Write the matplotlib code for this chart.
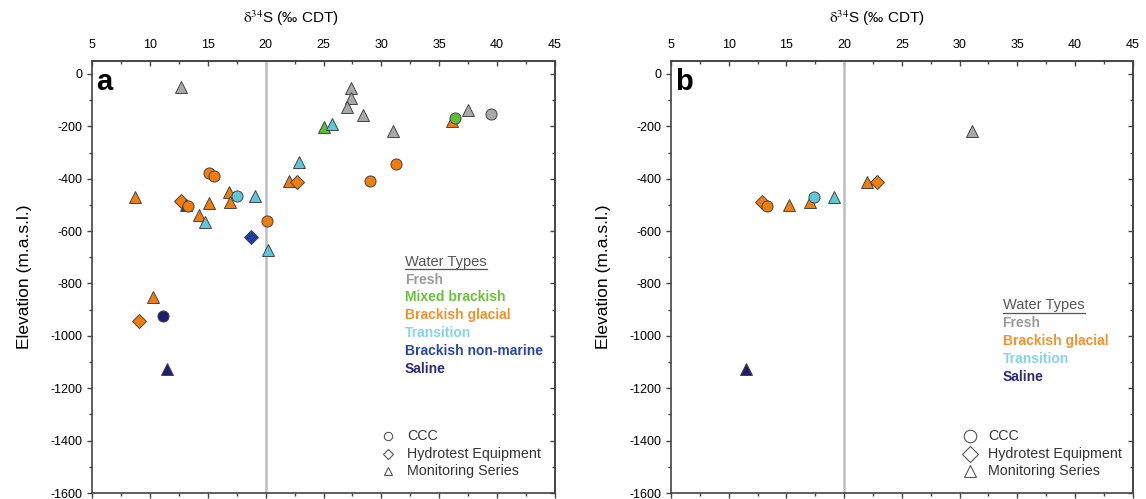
import matplotlib.pyplot as plt

plt.rcParams['font.family'] = ['Liberation Sans', 'DejaVu Sans']
plt.rcParams['mathtext.fontset'] = 'stix'
plt.rcParams['axes.unicode_minus'] = False

# water type colours (fill, legend text)
type_names = ['Fresh', 'Mixed brackish', 'Brackish glacial', 'Transition',
              'Brackish non-marine', 'Saline']
type_fill = ['#a9a9a9', '#5cbf34', '#f07d0c', '#5ec8da', '#1f3d9e', '#221c6e']
type_text = ['#9a9a9a', '#6cc23c', '#f2922e', '#86d4e6', '#2a44a8', '#2b2a78']

source_names = ['CCC', 'Hydrotest Equipment', 'Monitoring Series']
source_marker = {'CCC': 'o', 'Hydrotest Equipment': 'D', 'Monitoring Series': '^'}

# panel a data
a_type = ['Fresh', 'Fresh', 'Fresh', 'Fresh', 'Fresh', 'Fresh', 'Fresh', 'Fresh',
          'Mixed brackish', 'Transition', 'Brackish glacial', 'Mixed brackish',
          'Transition', 'Brackish glacial', 'Brackish glacial', 'Brackish glacial',
          'Brackish glacial', 'Brackish glacial', 'Brackish glacial', 'Brackish glacial',
          'Brackish glacial', 'Brackish non-marine', 'Brackish glacial', 'Brackish glacial',
          'Brackish glacial', 'Brackish glacial', 'Brackish glacial', 'Transition',
          'Transition', 'Transition', 'Brackish glacial', 'Brackish non-marine',
          'Transition', 'Brackish glacial', 'Brackish glacial', 'Saline', 'Saline']
a_source = ['Monitoring Series', 'Monitoring Series', 'Monitoring Series', 'Monitoring Series',
            'Monitoring Series', 'Monitoring Series', 'Monitoring Series', 'CCC',
            'Monitoring Series', 'Monitoring Series', 'Monitoring Series', 'CCC',
            'Monitoring Series', 'CCC', 'CCC', 'CCC',
            'CCC', 'Monitoring Series', 'Hydrotest Equipment', 'Monitoring Series',
            'Hydrotest Equipment', 'Monitoring Series', 'CCC', 'Monitoring Series',
            'Monitoring Series', 'Monitoring Series', 'Monitoring Series', 'CCC',
            'Monitoring Series', 'Monitoring Series', 'CCC', 'Hydrotest Equipment',
            'Monitoring Series', 'Monitoring Series', 'Hydrotest Equipment', 'CCC',
            'Monitoring Series']
a_d34s = [12.7, 27.4, 27.4, 27.0, 28.4, 31.0, 37.5, 39.5,
          25.0, 25.7, 36.1, 36.4,
          22.9, 31.3, 15.1, 15.5,
          29.0, 22.0, 22.7, 8.7,
          12.7, 13.1, 13.3, 14.2,
          15.1, 16.8, 16.9, 17.5,
          19.1, 14.8, 20.1, 18.7,
          20.2, 10.3, 9.1, 11.1, 11.5]
a_elev = [-50, -55, -90, -127, -158, -218, -137, -152,
          -202, -192, -180, -168,
          -335, -342, -378, -390,
          -408, -409, -411, -471,
          -485, -500, -506, -538,
          -494, -449, -487, -466,
          -466, -567, -563, -624,
          -673, -853, -945, -924, -1127]

# panel b data
b_type = ['Fresh', 'Brackish glacial', 'Brackish glacial', 'Brackish glacial',
          'Brackish glacial', 'Brackish glacial', 'Brackish glacial', 'Transition',
          'Transition', 'Saline']
b_source = ['Monitoring Series', 'Monitoring Series', 'Hydrotest Equipment',
            'Hydrotest Equipment', 'CCC', 'Monitoring Series', 'Monitoring Series',
            'CCC', 'Monitoring Series', 'Monitoring Series']
b_d34s = [31.1, 22.0, 22.8, 12.9, 13.3, 15.2, 17.0, 17.4, 19.1, 11.5]
b_elev = [-218, -411, -411, -487, -506, -500, -487, -468, -468, -1126]

a_legend_types = type_names
b_legend_types = ['Fresh', 'Brackish glacial', 'Transition', 'Saline']

fig = plt.figure(figsize=(11.46, 4.99), dpi=100)
ax_a = fig.add_axes([0.0803, 0.012, 0.404, 0.866])
ax_b = fig.add_axes([0.5855, 0.012, 0.403, 0.866])


def draw_panel(ax, types, sources, xs, ys, letter, legend_types, leg_x, leg_y,
               src_x, src_ms, xlab_x):
    ax.axvline(20, color='#bdbdbd', lw=1.8, zorder=1)
    for t, s, x, y in zip(types, sources, xs, ys):
        i = type_names.index(t)
        m = source_marker[s]
        ms = 8 if m == 'o' else (7 if m == 'D' else 9)
        ax.plot(x, y, marker=m, ms=ms, mfc=type_fill[i], mec='#444444', mew=0.7,
                ls='none', zorder=3)

    ax.set_xlim(5, 45)
    ax.set_ylim(-1600, 50)
    ax.set_xticks(range(5, 46, 5))
    ax.set_xticks([x + 2.5 for x in range(5, 45, 5)], minor=True)
    ax.set_yticks(range(-1600, 1, 200))
    ax.set_yticks(range(-1500, 0, 200), minor=True)
    ax.tick_params(axis='x', which='both', direction='out', labelbottom=False,
                   color='#444444')
    ax.tick_params(axis='y', which='both', direction='out', labelsize=9,
                   color='#444444', pad=3.5)
    ax.tick_params(which='major', length=3.5, width=1)
    ax.tick_params(which='minor', length=2.5, width=1)
    for sp in ax.spines.values():
        sp.set_color('#444444')
        sp.set_linewidth(1.2)

    top = ax.secondary_xaxis('top')
    top.set_xticks(range(5, 46, 5))
    top.set_xticks([x + 2.5 for x in range(5, 45, 5)], minor=True)
    top.tick_params(which='both', direction='in', labelsize=9, color='#444444', pad=7)
    top.tick_params(which='major', length=3.5, width=1)
    top.tick_params(which='minor', length=2.5, width=1)
    top.spines['top'].set_color('#444444')
    top.spines['top'].set_linewidth(1.2)
    ax.text(xlab_x, 1.098, r'$\mathrm{\delta}^{34}$S (‰ CDT)', transform=ax.transAxes,
            fontsize=11, ha='center', va='center')

    right = ax.secondary_yaxis('right')
    right.set_yticks(range(-1600, 1, 200))
    right.set_yticks(range(-1500, 0, 200), minor=True)
    right.tick_params(which='both', direction='in', labelright=False, color='#444444')
    right.tick_params(which='major', length=3.5, width=1)
    right.tick_params(which='minor', length=2.5, width=1)
    right.spines['right'].set_color('#444444')
    right.spines['right'].set_linewidth(1.2)

    ax.set_ylabel('Elevation (m.a.s.l.)', fontsize=12.5)
    ax.yaxis.set_label_coords(-0.13, 0.5)

    ax.text(0.008, 0.932, letter, transform=ax.transAxes, fontsize=21,
            fontweight='bold', ha='left', va='baseline')

    # water type legend
    step = 0.0412
    ax.text(leg_x, leg_y, 'Water Types', transform=ax.transAxes, fontsize=10.5,
            color='#555555', va='center', ha='left')
    ax.plot([leg_x, leg_x + 0.178], [leg_y - 0.017, leg_y - 0.017], transform=ax.transAxes,
            color='#555555', lw=0.9, clip_on=False)
    for k, t in enumerate(legend_types):
        i = type_names.index(t)
        ax.text(leg_x, leg_y - step * (k + 1), t, transform=ax.transAxes,
                fontsize=10, fontweight='bold', color=type_text[i],
                va='center', ha='left')

    # sample source legend
    for k, s in enumerate(source_names):
        yy = 0.131 - 0.040 * k
        ax.plot(src_x, yy, marker=source_marker[s], ms=src_ms if s != 'Hydrotest Equipment'
                else src_ms * 0.85, mfc='white', mec='#555555', mew=0.8, ls='none',
                transform=ax.transAxes, clip_on=False)
        ax.text(src_x + 0.04, yy, s, transform=ax.transAxes, fontsize=10.3,
                color='#333333', va='center', ha='left')


draw_panel(ax_a, a_type, a_source, a_d34s, a_elev, 'a', a_legend_types,
           0.676, 0.535, 0.640, 6, 0.43)
draw_panel(ax_b, b_type, b_source, b_d34s, b_elev, 'b', b_legend_types,
           0.718, 0.434, 0.647, 9, 0.446)

fig.savefig('out.png', dpi=100)
